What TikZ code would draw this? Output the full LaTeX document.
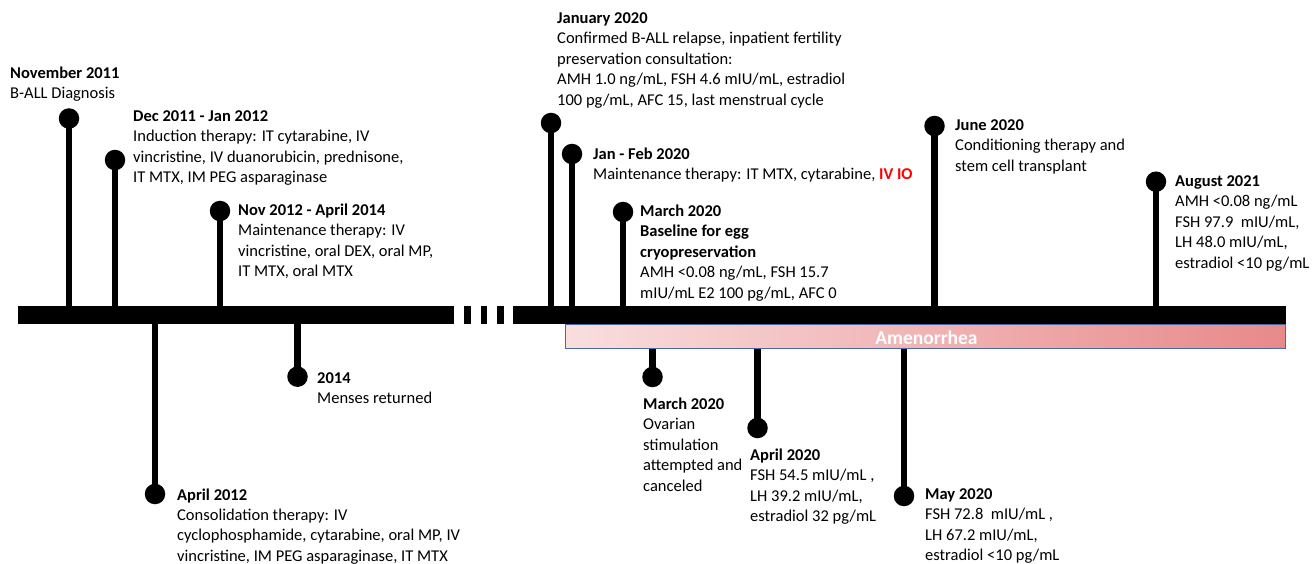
\documentclass[tikz,border=0pt]{standalone}
\usepackage{fontspec}
\setmainfont{Carlito}
\definecolor{amenL}{HTML}{F9DEDE}
\definecolor{amenR}{HTML}{E8898A}
\definecolor{amenB}{HTML}{4A68A8}
\definecolor{ioRed}{HTML}{FF0000}
\begin{document}
\begin{tikzpicture}[x=1pt,y=-1pt,
  stem/.style={line width=6.5pt},
  dot/.style={circle,fill=black,inner sep=0pt,minimum size=20.5pt},
  barseg/.style={fill=black,inner sep=0pt,anchor=north west,minimum height=18pt},
  lbl/.style={anchor=base west,align=left,inner sep=0pt,font=\fontsize{16.5}{20.4}\selectfont},
]
\useasboundingbox (0,0) rectangle (1312,564);

% timeline bar
\node[barseg,minimum width=436.5pt] (barL) at (17.5,306) {};
\node[barseg,minimum width=7pt] (dash1) at (464,306) {};
\node[barseg,minimum width=6.5pt] (dash2) at (480.7,306) {};
\node[barseg,minimum width=6.5pt] (dash3) at (496.8,306) {};
\node[barseg,minimum width=772.5pt] (barR) at (513,306) {};

% amenorrhea bar
\node[anchor=north west,inner sep=0pt,minimum width=720pt,minimum height=24pt,
  left color=amenL,right color=amenR,draw=amenB,line width=1pt] (amen) at (565,324.3) {};
\node[text=white,font=\fontsize{19.5}{22}\bfseries,inner sep=0pt,anchor=base] (amentxt) at (926.5,344) {Amenorrhea};

% dots
\node[dot] (d1) at (69,118.5) {};
\node[dot] (d2) at (115,160) {};
\node[dot] (d3) at (220,211) {};
\node[dot] (d4) at (155,494) {};
\node[dot] (d5) at (297.5,376.7) {};
\node[dot] (d6) at (551,123) {};
\node[dot] (d7) at (572,154) {};
\node[dot] (d8) at (623,212) {};
\node[dot] (d9) at (934.5,126) {};
\node[dot] (d10) at (1156,181.7) {};
\node[dot] (d11) at (652.5,377) {};
\node[dot] (d12) at (757.5,428) {};
\node[dot] (d13) at (904,496) {};

% stems
\foreach \d in {d1,d2,d3} \draw[stem] (\d.center) -- (\d.center |- barL.center);
\foreach \d in {d4,d5} \draw[stem] (\d.center |- barL.center) -- (\d.center);
\foreach \d in {d6,d7,d8,d9,d10} \draw[stem] (\d.center) -- (\d.center |- barR.center);
\foreach \d in {d11,d12,d13} \draw[stem] (\d.center |- amen.south) -- (\d.center);

% labels (anchored at the baseline of the last line)
\node[lbl] (t1) at (10,98.9) {\textbf{November 2011}\\B-ALL Diagnosis};
\node[lbl] (t2) at (133,182.7) {\textbf{Dec 2011 - Jan 2012}\\Induction therapy: IT cytarabine, IV\\vincristine, IV duanorubicin, prednisone,\\IT MTX, IM PEG asparaginase};
\node[lbl] (t3) at (238,276.7) {\textbf{Nov 2012 - April 2014}\\Maintenance therapy: IV\\vincristine, oral DEX, oral MP,\\IT MTX, oral MTX};
\node[lbl] (t4) at (177,561.2) {\textbf{April 2012}\\Consolidation therapy: IV\\cyclophosphamide, cytarabine, oral MP, IV\\vincristine, IM PEG asparaginase, IT MTX};
\node[lbl] (t5) at (317,403.9) {\textbf{2014}\\Menses returned};
\node[lbl] (t6) at (557,105.1) {\textbf{January 2020}\\Confirmed B-ALL relapse, inpatient fertility\\preservation consultation:\\AMH 1.0 ng/mL, FSH 4.6 mIU/mL, estradiol\\100 pg/mL, AFC 15, last menstrual cycle};
\node[lbl] (t7) at (593,179.9) {\textbf{Jan - Feb 2020}\\Maintenance therapy: IT MTX, cytarabine, \textcolor{ioRed}{\textbf{IV IO}}};
\node[lbl] (t8) at (640,298.1) {\textbf{March 2020}\\\textbf{Baseline for egg}\\\textbf{cryopreservation}\\AMH <0.08 ng/mL, FSH 15.7\\mIU/mL E2 100 pg/mL, AFC 0};
\node[lbl] (t9) at (955,171.3) {\textbf{June 2020}\\Conditioning therapy and\\stem cell transplant};
\node[lbl] (t10) at (1175,268.1) {\textbf{August 2021}\\AMH <0.08 ng/mL\\FSH 97.9\ \ mIU/mL,\\LH 48.0 mIU/mL,\\estradiol <10 pg/mL};
\node[lbl] (t11) at (643,491.1) {\textbf{March 2020}\\Ovarian\\stimulation\\attempted and\\canceled};
\node[lbl] (t12) at (750,521.7) {\textbf{April 2020}\\FSH 54.5 mIU/mL ,\\LH 39.2 mIU/mL,\\estradiol 32 pg/mL};
\node[lbl] (t13) at (925,560.7) {\textbf{May 2020}\\FSH 72.8\ \ mIU/mL ,\\LH 67.2 mIU/mL,\\estradiol <10 pg/mL};
\end{tikzpicture}
\end{document}
